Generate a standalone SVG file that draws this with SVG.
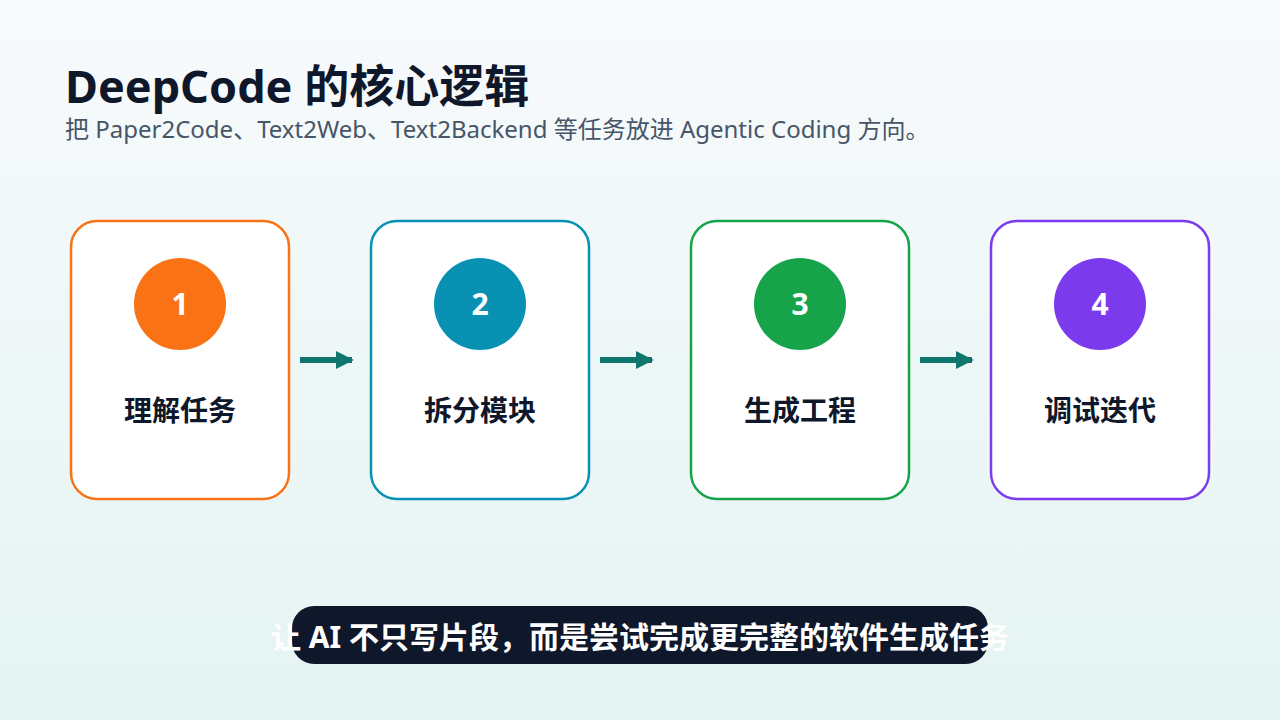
<svg xmlns="http://www.w3.org/2000/svg" width="1280" height="720" viewBox="0 0 1280 720">
<defs>
<linearGradient id="bg" x1="0" y1="0" x2="0" y2="1"><stop offset="0" stop-color="#f8fafc"/><stop offset="1" stop-color="#e4f4f2"/></linearGradient>
<marker id="ah" viewBox="0 0 10 10" refX="9" refY="5" markerWidth="3" markerHeight="3" orient="auto" markerUnits="strokeWidth"><path d="M0,0 L10,5 L0,10 z" fill="#0f766e"/></marker>
<style>
text{font-family:"Noto Sans","Noto Sans CJK SC",sans-serif}
.card{fill:#fff;stroke-width:2.5}
.num{fill:#fff;font-size:30px;font-weight:700;text-anchor:middle}
.lbl{fill:#0f172a;font-size:28px;font-weight:700;text-anchor:middle}
.arr{stroke:#0f766e;stroke-width:6;marker-end:url(#ah)}
</style>
</defs>
<rect width="1280" height="720" fill="url(#bg)"/>
<text x="65" y="103" font-size="45" font-weight="700" fill="#0f172a">DeepCode 的核心逻辑</text>
<text x="65" y="138" font-size="24" fill="#475569">把 Paper2Code、Text2Web、Text2Backend 等任务放进 Agentic Coding 方向。</text>
<g id="n1"><rect class="card" x="71" y="221" width="218" height="278" rx="26" stroke="#f97316"/><circle cx="180" cy="304" r="46" fill="#f97316"/><text class="num" x="180" y="315">1</text><text class="lbl" x="180" y="421">理解任务</text></g>
<g id="n2"><rect class="card" x="371" y="221" width="218" height="278" rx="26" stroke="#0891b2"/><circle cx="480" cy="304" r="46" fill="#0891b2"/><text class="num" x="480" y="315">2</text><text class="lbl" x="480" y="421">拆分模块</text></g>
<g id="n3"><rect class="card" x="691" y="221" width="218" height="278" rx="26" stroke="#16a34a"/><circle cx="800" cy="304" r="46" fill="#16a34a"/><text class="num" x="800" y="315">3</text><text class="lbl" x="800" y="421">生成工程</text></g>
<g id="n4"><rect class="card" x="991" y="221" width="218" height="278" rx="26" stroke="#7c3aed"/><circle cx="1100" cy="304" r="46" fill="#7c3aed"/><text class="num" x="1100" y="315">4</text><text class="lbl" x="1100" y="421">调试迭代</text></g>
<g id="connectors">
<line class="arr" x1="300" y1="360" x2="352" y2="360"/>
<line class="arr" x1="600" y1="360" x2="652" y2="360"/>
<line class="arr" x1="920" y1="360" x2="972" y2="360"/>
</g>
<g id="caption"><rect x="292" y="606" width="696" height="58" rx="22" fill="#0f172a"/><text x="640" y="648" font-size="30" font-weight="700" fill="#fff" text-anchor="middle">让 AI 不只写片段，而是尝试完成更完整的软件生成任务</text></g>
</svg>
